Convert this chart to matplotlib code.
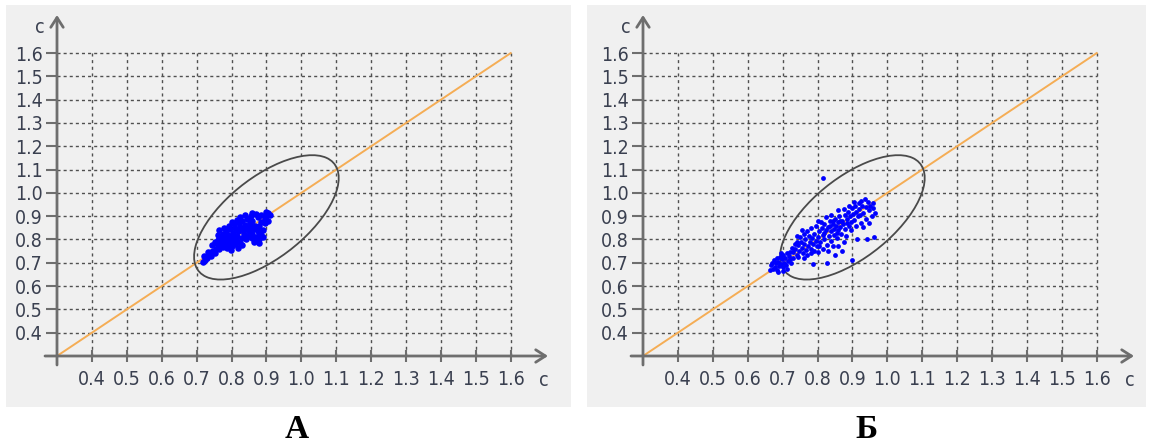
import numpy as np
from matplotlib import pyplot as plt
from matplotlib.patches import Ellipse
from matplotlib.font_manager import FontProperties

# axis ticks / labels
ticks = [0.4, 0.5, 0.6, 0.7, 0.8, 0.9, 1.0, 1.1, 1.2, 1.3, 1.4, 1.5, 1.6]
tick_labels = ['0.4', '0.5', '0.6', '0.7', '0.8', '0.9', '1.0', '1.1', '1.2', '1.3', '1.4', '1.5', '1.6']
axis_name = 'c'
panel_names = ['А', 'Б']

# diagonal y = x
diag_x = [0.3, 1.6]
diag_y = [0.3, 1.6]

# ellipse (center x, center y, width, height, angle in data space)
ell_center = (0.90, 0.895)
ell_width = 0.616
ell_height = 0.278
ell_angle = 56

# panel A points
a_x = [0.718, 0.725, 0.730, 0.722, 0.735, 0.742, 0.740, 0.748, 0.733, 0.752,
       0.755, 0.760, 0.765, 0.770, 0.758, 0.775, 0.780, 0.768, 0.785, 0.790,
       0.795, 0.800, 0.805, 0.778, 0.762, 0.810, 0.815, 0.820, 0.825, 0.788,
       0.798, 0.830, 0.745, 0.752,
       0.770, 0.775, 0.780, 0.785, 0.790, 0.795, 0.800, 0.805, 0.810, 0.815,
       0.820, 0.825, 0.830, 0.835, 0.840, 0.845, 0.850, 0.855, 0.860, 0.865,
       0.870, 0.875, 0.880, 0.885, 0.765, 0.778, 0.792, 0.808, 0.822, 0.838,
       0.852, 0.868, 0.842, 0.858, 0.878, 0.890, 0.760, 0.812, 0.828, 0.848,
       0.800, 0.815, 0.830, 0.845, 0.860, 0.875, 0.885, 0.895, 0.840, 0.855,
       0.870, 0.885, 0.900, 0.905, 0.898, 0.910, 0.825, 0.860, 0.880, 0.895,
       0.905, 0.880, 0.875, 0.865, 0.890]
a_y = [0.705, 0.712, 0.722, 0.728, 0.735, 0.728, 0.745, 0.752, 0.748, 0.740,
       0.760, 0.772, 0.758, 0.780, 0.785, 0.768, 0.790, 0.795, 0.775, 0.800,
       0.785, 0.770, 0.792, 0.802, 0.798, 0.780, 0.795, 0.765, 0.785, 0.762,
       0.755, 0.778, 0.775, 0.790,
       0.810, 0.825, 0.815, 0.835, 0.820, 0.845, 0.810, 0.830, 0.850, 0.815,
       0.835, 0.855, 0.805, 0.825, 0.845, 0.815, 0.835, 0.855, 0.825, 0.845,
       0.810, 0.835, 0.800, 0.820, 0.840, 0.850, 0.860, 0.865, 0.870, 0.862,
       0.870, 0.858, 0.800, 0.805, 0.818, 0.840, 0.820, 0.805, 0.840, 0.850,
       0.875, 0.885, 0.880, 0.890, 0.880, 0.895, 0.875, 0.890, 0.905, 0.900,
       0.910, 0.905, 0.900, 0.915, 0.920, 0.905, 0.895, 0.915, 0.860, 0.870,
       0.880, 0.785, 0.795, 0.790, 0.810]

# panel B points
b_x = [0.665, 0.672, 0.668, 0.678, 0.685, 0.680, 0.690, 0.675, 0.688, 0.695,
       0.700, 0.698, 0.705, 0.692, 0.710, 0.708, 0.715, 0.670, 0.683, 0.702,
       0.712, 0.720, 0.725, 0.718, 0.695, 0.730, 0.722, 0.686, 0.700, 0.712,
       0.730, 0.735, 0.740, 0.745, 0.748, 0.752, 0.755, 0.758, 0.762, 0.765,
       0.768, 0.772, 0.775, 0.778, 0.782, 0.785, 0.788, 0.790, 0.795, 0.798,
       0.740, 0.750, 0.760, 0.735, 0.728, 0.745, 0.770, 0.780, 0.790, 0.800,
       0.760, 0.787, 0.770, 0.755, 0.780, 0.742,
       0.800, 0.805, 0.808, 0.812, 0.815, 0.818, 0.820, 0.823, 0.826, 0.830,
       0.832, 0.835, 0.838, 0.840, 0.843, 0.846, 0.848, 0.850, 0.853, 0.856,
       0.858, 0.860, 0.863, 0.865, 0.868, 0.870, 0.873, 0.875, 0.878, 0.880,
       0.810, 0.825, 0.840, 0.795, 0.800, 0.815, 0.830, 0.845, 0.860, 0.828,
       0.850, 0.870, 0.805, 0.820, 0.835, 0.855, 0.865, 0.845, 0.885, 0.882,
       0.885, 0.888, 0.890, 0.893, 0.896, 0.900, 0.902, 0.905, 0.908, 0.910,
       0.913, 0.915, 0.918, 0.920, 0.923, 0.925, 0.928, 0.930, 0.935, 0.938,
       0.940, 0.942, 0.945, 0.948, 0.950, 0.955, 0.958, 0.960, 0.962, 0.965,
       0.900, 0.895, 0.910, 0.930, 0.948, 0.905, 0.925, 0.890, 0.875, 0.860,
       0.815]
b_y = [0.668, 0.675, 0.690, 0.682, 0.670, 0.700, 0.688, 0.712, 0.705, 0.695,
       0.680, 0.715, 0.700, 0.725, 0.690, 0.722, 0.708, 0.700, 0.722, 0.735,
       0.740, 0.715, 0.700, 0.730, 0.740, 0.722, 0.745, 0.660, 0.665, 0.672,
       0.745, 0.760, 0.735, 0.775, 0.750, 0.790, 0.765, 0.740, 0.780, 0.800,
       0.755, 0.772, 0.815, 0.790, 0.760, 0.805, 0.780, 0.825, 0.795, 0.770,
       0.790, 0.810, 0.825, 0.780, 0.765, 0.725, 0.735, 0.740, 0.750, 0.745,
       0.720, 0.695, 0.835, 0.840, 0.850, 0.815,
       0.810, 0.835, 0.790, 0.850, 0.820, 0.800, 0.865, 0.840, 0.775, 0.855,
       0.815, 0.880, 0.835, 0.795, 0.865, 0.845, 0.820, 0.890, 0.860, 0.805,
       0.875, 0.840, 0.900, 0.855, 0.825, 0.880, 0.865, 0.790, 0.905, 0.845,
       0.875, 0.895, 0.905, 0.860, 0.880, 0.760, 0.750, 0.770, 0.770, 0.700,
       0.735, 0.750, 0.770, 0.830, 0.860, 0.830, 0.880, 0.880, 0.870, 0.815,
       0.890, 0.920, 0.860, 0.900, 0.875, 0.935, 0.910, 0.885, 0.945, 0.920,
       0.800, 0.900, 0.955, 0.930, 0.905, 0.870, 0.945, 0.915, 0.975, 0.940,
       0.890, 0.800, 0.960, 0.925, 0.945, 0.900, 0.935, 0.955, 0.810, 0.915,
       0.710, 0.840, 0.860, 0.855, 0.870, 0.960, 0.965, 0.945, 0.930, 0.925,
       1.062]

# layout in pixels
W, H = 1150, 447
boxes = [(6, 5, 571, 407), (587, 5, 1146, 407)]   # left, top, right, bottom
origins = [(57, 356), (643, 356)]
sx, sy = 349.0, 233.0                               # px per data unit

text_col = '#3a4050'
axis_col = '#6e6e6e'
grid_col = '#505050'
lab_font = FontProperties(family='DejaVu Sans', stretch='condensed', size=14)

fig = plt.figure(figsize=(W / 100, H / 100), dpi=100)
fig.patch.set_facecolor('white')

series = [(a_x, a_y, 22), (b_x, b_y, 12)]
name_px = [297, 866]

for i in range(2):
    l, t, r, b = boxes[i]
    ox, oy = origins[i]
    ax = fig.add_axes([l / W, 1 - b / H, (r - l) / W, (b - t) / H])
    ax.set_facecolor('#f0f0f0')
    ax.set_xlim(0.3 - (ox - l) / sx, 0.3 + (r - ox) / sx)
    ax.set_ylim(0.3 - (b - oy) / sy, 0.3 + (oy - t) / sy)

    def px(x, y):
        return 0.3 + (x - ox) / sx, 0.3 + (oy - y) / sy

    for s in ['top', 'right']:
        ax.spines[s].set_visible(False)
    for s in ['left', 'bottom']:
        ax.spines[s].set_position(('data', 0.3))
        ax.spines[s].set_visible(False)

    # grid
    ax.hlines(ticks, 0.3, 1.6, colors=grid_col, linewidth=1.0,
              linestyles=(0, (2.2, 2.2)), zorder=1)
    ax.vlines(ticks, 0.3, 1.6, colors=grid_col, linewidth=1.0,
              linestyles=(0, (2.2, 2.6)), zorder=1)

    # axes with arrows
    x0, _ = px(ox - 12, oy)
    x1, _ = px(ox + 491, oy)
    ax.annotate('', xy=(x1, 0.3), xytext=(x0, 0.3),
                arrowprops=dict(arrowstyle='->,head_length=0.5,head_width=0.32',
                                color=axis_col, lw=2, mutation_scale=14,
                                shrinkA=0, shrinkB=0), zorder=3)
    _, y0 = px(ox, oy + 9)
    _, y1 = px(ox, 15)
    ax.annotate('', xy=(0.3, y1), xytext=(0.3, y0),
                arrowprops=dict(arrowstyle='->,head_length=0.5,head_width=0.32',
                                color=axis_col, lw=2, mutation_scale=14,
                                shrinkA=0, shrinkB=0), zorder=3)

    ax.set_xticks(ticks)
    ax.set_xticklabels(tick_labels)
    ax.set_yticks(ticks)
    ax.set_yticklabels(tick_labels)
    ax.tick_params(axis='x', direction='inout', length=8, width=1.5,
                   color=axis_col, pad=6, labelcolor=text_col)
    ax.tick_params(axis='y', direction='out', length=8, width=1.5,
                   color=axis_col, pad=2, labelcolor=text_col)
    for lab in ax.get_xticklabels() + ax.get_yticklabels():
        lab.set_fontproperties(lab_font)

    # axis names
    cx, cy = px(ox + 487, oy + 24)
    ax.text(cx, cy, axis_name, color=text_col, fontproperties=lab_font,
            ha='center', va='center')
    cx, cy = px(ox - 17, 28)
    ax.text(cx, cy, axis_name, color=text_col, fontproperties=lab_font,
            ha='center', va='center')

    # diagonal, ellipse, points
    ax.plot(diag_x, diag_y, color='#f5ad55', lw=1.4, zorder=2)
    ax.add_patch(Ellipse(ell_center, ell_width, ell_height, angle=ell_angle,
                         fill=False, edgecolor='#4a4a4a', lw=1.3, zorder=3))
    xs, ys, ms = series[i]
    ax.scatter(xs, ys, s=ms, color='#0000ff', linewidths=0, zorder=4)

    fig.text(name_px[i] / W, 1 - 445 / H, panel_names[i], fontsize=24,
             fontweight='bold', family=['Liberation Serif', 'DejaVu Serif'],
             ha='center', va='bottom', color='black')

fig.savefig('out.png', dpi=100)
